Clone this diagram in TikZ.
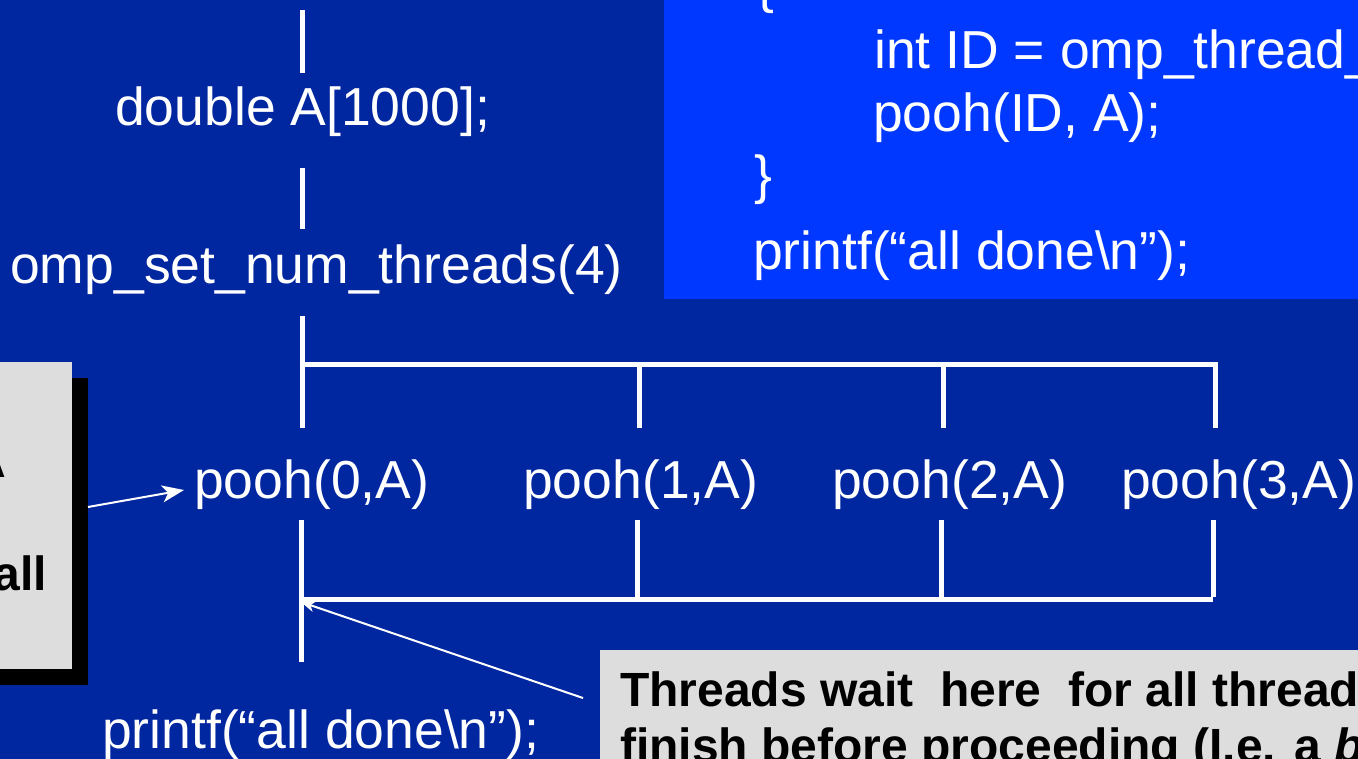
\documentclass[tikz,border=0pt]{standalone}
\usepackage{fontspec}
\setmainfont{Liberation Sans}
\usetikzlibrary{arrows.meta}
\definecolor{slidebg}{RGB}{0,38,160}
\definecolor{codebg}{RGB}{0,56,255}
\definecolor{notegray}{RGB}{221,221,221}
\tikzset{
  code/.style={text=white, inner sep=0pt, anchor=base west,
    font=\fontsize{53.5}{64}\selectfont},
  notetext/.style={text=black, inner sep=0pt,
    font=\fontsize{48}{56}\selectfont\bfseries},
  flow/.style={draw=white, line width=5pt},
  pointer/.style={draw=white, line width=2pt,
    -{Stealth[length=22pt,width=17pt,inset=6pt]}},
  smallpointer/.style={draw=white, line width=2pt,
    -{Stealth[length=14pt,width=11pt,inset=4pt]}},
}
\begin{document}
\begin{tikzpicture}[x=1pt,y=-1pt]
\useasboundingbox (0,0) rectangle (1358,759);
\clip (0,0) rectangle (1358,759);
\fill[slidebg] (-5,-5) rectangle (1363,764);

% code panel (top right)
\fill[codebg] (664,-5) rectangle (1363,299);
\node[code] (obrace) at (756,3) {\{};
\node[code] (idline) at (874,69) {int ID = omp\_thread\_num();};
\node[code] (poohid) at (873,132) {pooh(ID, A);};
\node[code] (cbrace) at (754,194) {\}};
\node[code] (printtop) at (753,270) {printf(“all done\textbackslash n”);};

% left note box with shadow
\fill[black] (-10,378) rectangle (88,685);
\fill[notegray] (-10,362) rectangle (72,669);
\node[notetext, anchor=base east] (noteA) at (6,477) {A};
\node[notetext, anchor=base east] (noteall) at (47,590) {all};

% bottom note box
\fill[notegray] (600,650) rectangle (1363,764);
\node[notetext, anchor=base west] (waitone) at (620,706) {Threads wait\ \ here\ \ for all threads to};
\node[notetext, anchor=base west] (waittwo) at (620,762) {finish before proceeding (I.e. a \textit{barrier})};

% sequential statements
\node[code] (dbl) at (115,126) {double A[1000];};
\node[code] (nthreads) at (10,284) {omp\_set\_num\_threads(4)};
\node[code] (pooh0) at (194,498) {pooh(0,A)};
\node[code] (pooh1) at (523,498) {pooh(1,A)};
\node[code] (pooh2) at (832,498) {pooh(2,A)};
\node[code] (pooh3) at (1121,498) {pooh(3,A)};
\node[code] (printbot) at (102,748) {printf(“all done\textbackslash n”);};

% master thread segments
\coordinate (m0) at (302,10);   \coordinate (m1) at (302,73);
\coordinate (m2) at (302,168);  \coordinate (m3) at (302,229);
\coordinate (m4) at (302,316);  \coordinate (m5) at (302,428);
\draw[flow] (m0) -- (m1);
\draw[flow] (m2) -- (m3);
\draw[flow] (m4) -- (m5);

% fork
\coordinate (f0) at (302,365);
\coordinate (f1) at (639,365);  \coordinate (f1b) at (639,428);
\coordinate (f2) at (943,365);  \coordinate (f2b) at (943,428);
\coordinate (f3) at (1215,365); \coordinate (f3b) at (1215,428);
\draw[flow] ([xshift=-2.5pt]f0) -- ([xshift=2.5pt]f3);
\draw[flow] (f1) -- (f1b);
\draw[flow] (f2) -- (f2b);
\draw[flow] (f3) -- (f3b);

% join (barrier)
\coordinate (j0) at (301,520); \coordinate (j0b) at (301,662);
\coordinate (j1) at (637,520); \coordinate (j1b) at (637,599);
\coordinate (j2) at (941,520); \coordinate (j2b) at (941,599);
\coordinate (j3) at (1213,520); \coordinate (j3b) at (1213,599);
\coordinate (jl) at (301,599);
\draw[flow] (j0) -- (j0b);
\draw[flow] (j1) -- (j1b);
\draw[flow] (j2) -- (j2b);
\draw[flow] (j3) -- ([yshift=2.5pt]j3b);
\draw[flow] (jl) -- (j3b);

% pointers from the notes
\coordinate (leftfrom) at (88,507);
\coordinate (lefttip) at (184,490);
\draw[pointer] (leftfrom) -- (lefttip);
\coordinate (barfrom) at (583,698);
\coordinate (bartip) at (301,602);
\draw[smallpointer] (barfrom) -- (bartip);
\end{tikzpicture}
\end{document}
